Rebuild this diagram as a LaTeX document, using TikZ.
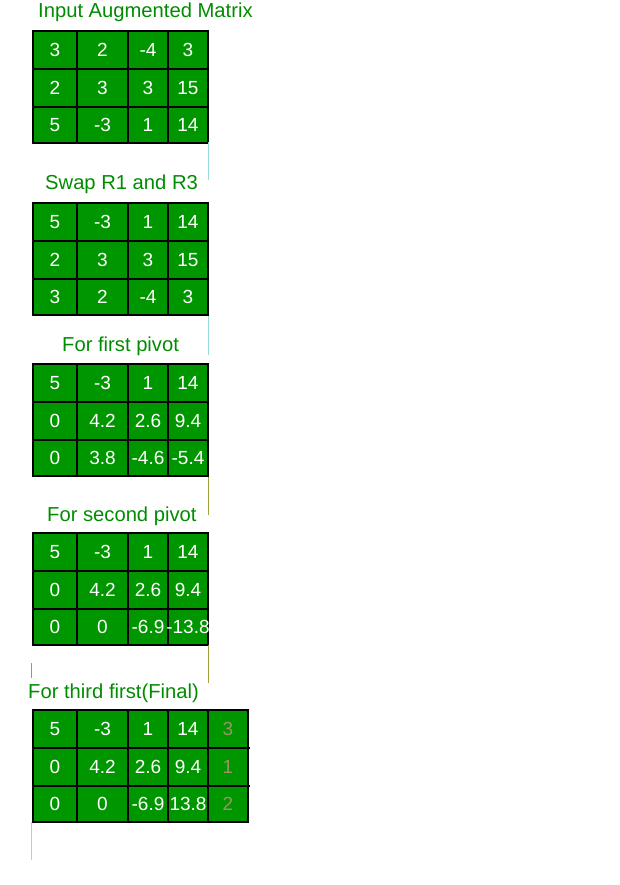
\documentclass[tikz,border=0pt]{standalone}
\usepackage{fontspec}
\setmainfont{Liberation Sans}
\usepackage{tikz}

\definecolor{cellgreen}{RGB}{0,150,0}
\definecolor{titlegreen}{RGB}{0,140,0}
\definecolor{pivotgray}{RGB}{150,150,105}
\definecolor{strayblue}{RGB}{150,220,220}
\definecolor{strayolive}{RGB}{160,160,60}

\tikzset{
  titletext/.style={anchor=base west, inner sep=0pt, text=titlegreen, font=\fontsize{20.2}{21}\selectfont},
  cellnum/.style={inner sep=0pt, text=white, font=\fontsize{19}{19}\selectfont},
  lastnum/.style={cellnum, text=pivotgray},
  gridline/.style={line width=1.6pt, black},
  stray/.style={line width=0.8pt}
}

% one augmented table: #1 name, #2 top y, #3 rows
\newcommand{\augtable}[3]{%
  \fill[cellgreen] (33,#2) rectangle (208,#2+112);
  \draw[gridline] (33,#2) rectangle (208,#2+112);
  \foreach \cx in {77,128,168} \draw[gridline] (\cx,#2) -- (\cx,#2+112);
  \foreach \ry in {38,76} \draw[gridline] (33,#2+\ry) -- (208,#2+\ry);
  \foreach \row [count=\r] in {#3} {
    \foreach \val [count=\c] in \row {
      \pgfmathsetmacro{\nx}{{55,102.5,148,188}[\c-1]}
      \pgfmathsetmacro{\ny}{#2+{19,57,94}[\r-1]}
      \node[cellnum] (#1-\r-\c) at (\nx,\ny) {\val};
    }
  }
}

\begin{document}
\begin{tikzpicture}[x=1pt,y=-1pt]
\useasboundingbox (0,0) rectangle (620,885);

% titles
\node[titletext] (tInput) at (38,18) {Input Augmented Matrix};
\node[titletext] (tSwap) at (45,190) {Swap R1 and R3};
\node[titletext] (tFirst) at (62,351) {For first pivot};
\node[titletext] (tSecond) at (47,521) {For second pivot};
\node[titletext] (tFinal) at (28,698) {For third first(Final)};

% tables
\augtable{input}{31}{{3,2,-4,3},{2,3,3,15},{5,-3,1,14}}
\augtable{swap}{203}{{5,-3,1,14},{2,3,3,15},{3,2,-4,3}}
\augtable{first}{364}{{5,-3,1,14},{0,4.2,2.6,9.4},{0,3.8,-4.6,-5.4}}
\augtable{second}{533}{{5,-3,1,14},{0,4.2,2.6,9.4},{0,0,-6.9,-13.8}}

% final table with extra column
\fill[cellgreen] (208,710) rectangle (248,822);
\augtable{final}{710}{{5,-3,1,14},{0,4.2,2.6,9.4},{0,0,-6.9,13.8}}
\draw[gridline] (208,710) rectangle (248,822);
\foreach \ry in {748,786} \draw[gridline] (208,\ry) -- (250,\ry);
\foreach \v [count=\r] in {3,1,2} {
  \pgfmathsetmacro{\ny}{{729,767,804}[\r-1]}
  \node[lastnum] (final-\r-5) at (228,\ny) {\v};
}

% stray lines
\draw[stray, strayblue] (208,142) -- (208,180);
\draw[stray, strayblue] (208,316) -- (208,355);
\draw[stray, strayolive] (208,477) -- (208,515);
\draw[stray, strayolive] (208,645) -- (208,683);
\draw[stray, strayolive] (31,663) -- (31,678);
\draw[stray, strayblue] (31,822) -- (31,860);
\end{tikzpicture}
\end{document}
